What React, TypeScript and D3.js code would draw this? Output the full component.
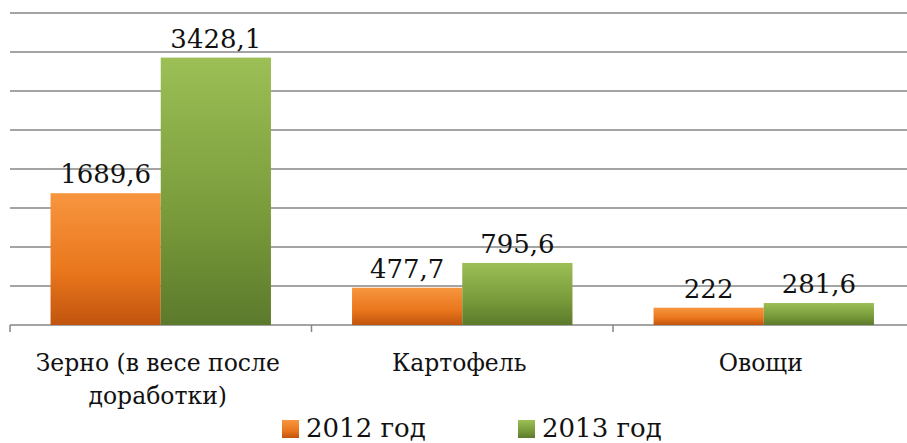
import React from "react";
import * as d3 from "d3";

const categories = ["Зерно (в весе после доработки)", "Картофель", "Овощи"];
const categoryLines = [["Зерно (в весе после", "доработки)"], ["Картофель"], ["Овощи"]];
const seriesNames = ["2012 год", "2013 год"];
const values2012 = [1689.6, 477.7, 222];
const values2013 = [3428.1, 795.6, 281.6];
const gridTicks = [0, 500, 1000, 1500, 2000, 2500, 3000, 3500, 4000];

const width = 907;
const height = 443;
const serif = "DejaVu Serif";

const fmt = (v: number) => String(v).replace(".", ",");

const App = () => {
  const x0 = d3.scaleBand().domain(categories).range([10, 914.5]).padding(0);
  const x1 = d3
    .scaleBand()
    .domain(seriesNames)
    .range([0, x0.bandwidth()])
    .paddingInner(0)
    .paddingOuter(0.368);
  const y = d3.scaleLinear().domain([0, 4000]).range([325, 13]);

  const series = [
    { name: seriesNames[0], values: values2012, fill: "url(#gOrange)" },
    { name: seriesNames[1], values: values2013, fill: "url(#gGreen)" },
  ];

  const legendX = [282, 518];

  return (
    <svg
      width={width}
      height={height}
      style={{ position: "absolute", left: 0, top: 0, background: "#fff" }}
    >
      <defs>
        <linearGradient id="gOrange" x1="0" y1="0" x2="0" y2="1">
          <stop offset="0%" stopColor="#f7963f" />
          <stop offset="60%" stopColor="#e9761c" />
          <stop offset="100%" stopColor="#c1540e" />
        </linearGradient>
        <linearGradient id="gGreen" x1="0" y1="0" x2="0" y2="1">
          <stop offset="0%" stopColor="#9cbf56" />
          <stop offset="60%" stopColor="#799a3a" />
          <stop offset="100%" stopColor="#5c7a2c" />
        </linearGradient>
      </defs>

      {gridTicks.map((t) => (
        <line
          key={t}
          x1={10}
          x2={width}
          y1={y(t)}
          y2={y(t)}
          stroke="#868686"
          strokeWidth={1.5}
        />
      ))}

      {x0.domain().map((c) => (
        <line key={c} x1={x0(c)} x2={x0(c)} y1={y(0)} y2={y(0) + 7} stroke="#868686" strokeWidth={1.5} />
      ))}

      {series.map((s) =>
        categories.map((c, i) => {
          const bx = (x0(c) ?? 0) + (x1(s.name) ?? 0);
          return (
            <rect
              key={s.name + c}
              x={bx}
              y={y(s.values[i])}
              width={x1.bandwidth()}
              height={y(0) - y(s.values[i])}
              fill={s.fill}
            />
          );
        })
      )}

      {series.map((s) =>
        categories.map((c, i) => {
          const bx = (x0(c) ?? 0) + (x1(s.name) ?? 0) + x1.bandwidth() / 2;
          return (
            <text
              key={"l" + s.name + c}
              x={bx}
              y={y(s.values[i]) - 10}
              textAnchor="middle"
              style={{ fontFamily: serif }}
              fontSize={26}
              fill="#111"
            >
              {fmt(s.values[i])}
            </text>
          );
        })
      )}

      {categories.map((c, i) => (
        <text
          key={"c" + c}
          x={(x0(c) ?? 0) + x0.bandwidth() / 2 - 3}
          y={371}
          textAnchor="middle"
          style={{ fontFamily: serif }}
          fontSize={23.5}
          fill="#111"
        >
          {categoryLines[i].map((ln, j) => (
            <tspan key={j} x={(x0(c) ?? 0) + x0.bandwidth() / 2 - 3} dy={j === 0 ? 0 : 33}>
              {ln}
            </tspan>
          ))}
        </text>
      ))}

      {series.map((s, i) => (
        <g key={"lg" + s.name} transform={`translate(${legendX[i]},0)`}>
          <rect x={0} y={420} width={17} height={18} fill={s.fill} />
          <text x={24} y={437} style={{ fontFamily: serif }} fontSize={26} fill="#111">
            {s.name}
          </text>
        </g>
      ))}
    </svg>
  );
};

export default App;
